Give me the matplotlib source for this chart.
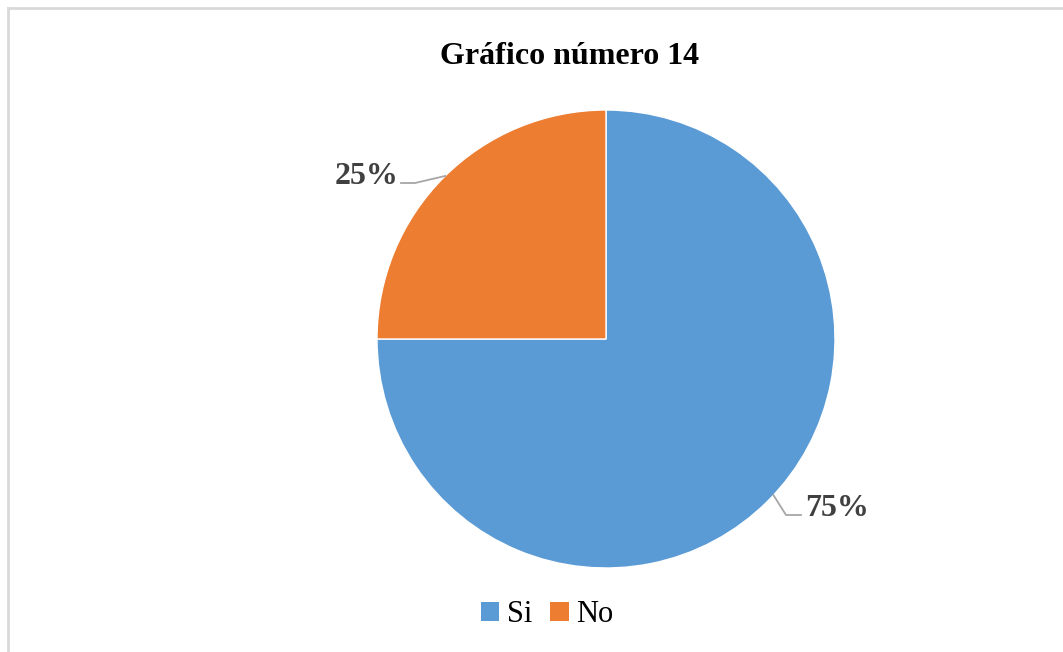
import numpy as np
import matplotlib.pyplot as plt
from matplotlib.patches import Patch

labels = ['Si', 'No']
values = [75, 25]
colors = ['#5B9BD5', '#ED7D31']

plt.rcParams['font.family'] = ['Liberation Serif', 'DejaVu Serif']

W, H = 1063, 652
fig = plt.figure(figsize=(W / 100, H / 100), dpi=100)
ax = fig.add_axes([0, 0, 1, 1])

cx, cy, r = 606, H - 339, 229
wedges, _ = ax.pie(values, colors=colors, startangle=90, counterclock=False,
                   center=(cx, cy), radius=r, frame=True,
                   wedgeprops=dict(edgecolor='white', linewidth=1))
ax.set_xlim(0, W)
ax.set_ylim(0, H)
ax.set_aspect('equal')
ax.axis('off')

# chart border (only top and left visible)
ax.plot([8, W], [H - 8, H - 8], color='#D9D9D9', lw=2, clip_on=False)
ax.plot([8, 8], [0, H - 8], color='#D9D9D9', lw=2, clip_on=False)

# data labels with leader lines
for w, lab, v in zip(wedges, labels, values):
    if lab == 'No':
        ang = np.deg2rad(134.6)
        ex, ey = cx + r * np.cos(ang), cy + r * np.sin(ang)
        ax.plot([ex, 415, 401], [ey, H - 183, H - 183], color='#A6A6A6', lw=1.3)
        ax.text(398, H - 177, f'{v}%', ha='right', va='center', fontsize=23,
                fontweight='bold', color='#404040')
    else:
        ang = np.deg2rad(-43)
        ex, ey = cx + r * np.cos(ang), cy + r * np.sin(ang)
        ax.plot([ex, 786, 801], [ey, H - 515, H - 515], color='#A6A6A6', lw=1.3)
        ax.text(805, H - 508, f'{v}%', ha='left', va='center', fontsize=23,
                fontweight='bold', color='#404040')

ax.text(570, H - 57, 'Gráfico número 14', ha='center', va='center',
        fontsize=23, fontweight='bold', color='black')

handles = [Patch(facecolor=c, edgecolor='none') for c in colors]
fig.legend(handles, labels, loc='center', bbox_to_anchor=(547 / W, 1 - 615 / H),
           ncol=2, frameon=False, fontsize=22, handlelength=0.6, handleheight=0.6,
           handletextpad=0.25, columnspacing=0.6)

fig.savefig('out.png', dpi=100)
